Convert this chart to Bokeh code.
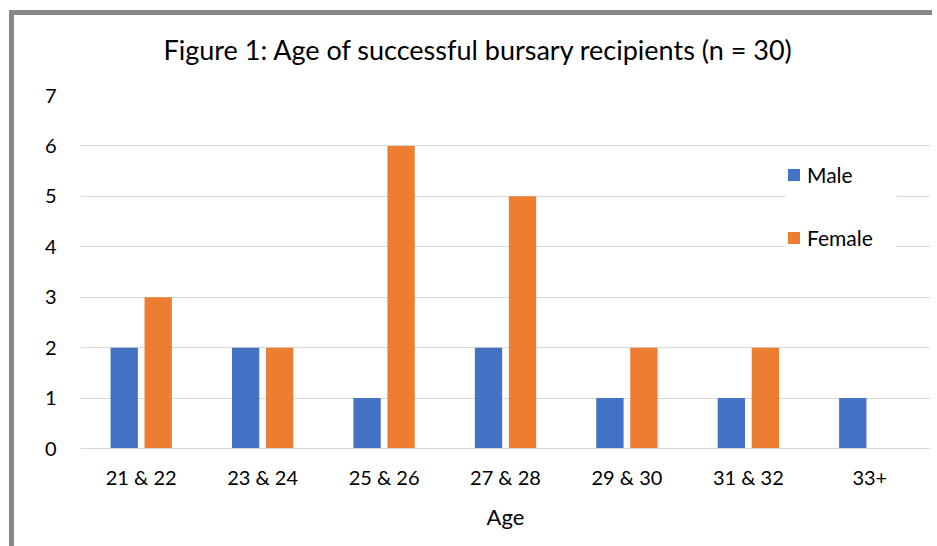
from bokeh.plotting import figure
from bokeh.models import ColumnDataSource, FactorRange, Range1d, Legend, LegendItem, Title, FixedTicker
from bokeh.transform import dodge
from bokeh.embed import file_html
from bokeh.resources import INLINE

categories = ["21 & 22", "23 & 24", "25 & 26", "27 & 28", "29 & 30", "31 & 32", "33+"]
male = [2, 2, 1, 2, 1, 1, 1]
female = [3, 2, 6, 5, 2, 2, 0]
y_ticks = [0, 1, 2, 3, 4, 5, 6, 7]
title_text = "Figure 1: Age of successful bursary recipients (n = 30)"

src = ColumnDataSource(dict(cat=categories, male=male, female=female))

FONT = "Lato"
p = figure(width=923, height=546, x_range=FactorRange(*categories), y_range=Range1d(0, 7),
           output_backend="svg", toolbar_location=None,
           min_border_left=66, min_border_right=7, min_border_top=95, min_border_bottom=98)
p.styles = {"margin-left": "9px", "padding-left": "5px",
            "background": "linear-gradient(#888888,#888888) 0 10px / 5px 100% no-repeat, "
                          "linear-gradient(#888888,#888888) 0 10px / 100% 5px no-repeat"}
p.outline_line_color = None
p.background_fill_color = "white"
p.border_fill_color = "white"
p.border_fill_alpha = 0

r_m = p.vbar(x=dodge("cat", -0.14, range=p.x_range), top="male", width=0.225, source=src,
             fill_color="#4472C4", line_color=None)
r_f = p.vbar(x=dodge("cat", 0.14, range=p.x_range), top="female", width=0.225, source=src,
             fill_color="#ED7D31", line_color=None)

p.title = Title(text=title_text, align="left", offset=83, text_font=FONT,
                text_font_size="27px", text_font_style="normal", text_color="#000000",
                standoff=60)

p.xgrid.grid_line_color = None
p.ygrid.grid_line_color = "#d9d9d9"
p.ygrid.grid_line_width = 1
p.yaxis.ticker = FixedTicker(ticks=y_ticks)
p.yaxis.axis_line_color = None
p.yaxis.major_tick_line_color = None
p.yaxis.minor_tick_line_color = None
p.yaxis.major_label_standoff = 18
p.yaxis.major_label_text_font = FONT
p.yaxis.major_label_text_font_size = "20px"
p.yaxis.major_label_text_color = "#000000"

p.xaxis.axis_line_color = "#d9d9d9"
p.xaxis.major_tick_line_color = None
p.xaxis.minor_tick_line_color = None
p.xaxis.major_label_standoff = 10
p.xaxis.major_label_text_font = FONT
p.xaxis.major_label_text_font_size = "20px"
p.xaxis.major_label_text_color = "#000000"
p.xaxis.axis_label = "Age"
p.xaxis.axis_label_text_font = FONT
p.xaxis.axis_label_text_font_size = "22px"
p.xaxis.axis_label_text_font_style = "normal"
p.xaxis.axis_label_text_color = "#000000"
p.xaxis.axis_label_standoff = 11
p.x_range.range_padding = 0
p.x_range.group_padding = 0

legend = Legend(items=[LegendItem(label="Male", renderers=[r_m]),
                       LegendItem(label="Female", renderers=[r_f])],
                location=(706, 198), orientation="vertical",
                background_fill_color="white", background_fill_alpha=1,
                border_line_color=None, glyph_width=15, glyph_height=15,
                label_height=24, label_width=90, spacing=38, padding=24, margin=0,
                label_text_font=FONT, label_text_font_size="21px", label_text_color="#000000",
                label_standoff=6)
p.add_layout(legend)

open("out.html", "w").write(file_html(p, INLINE))
